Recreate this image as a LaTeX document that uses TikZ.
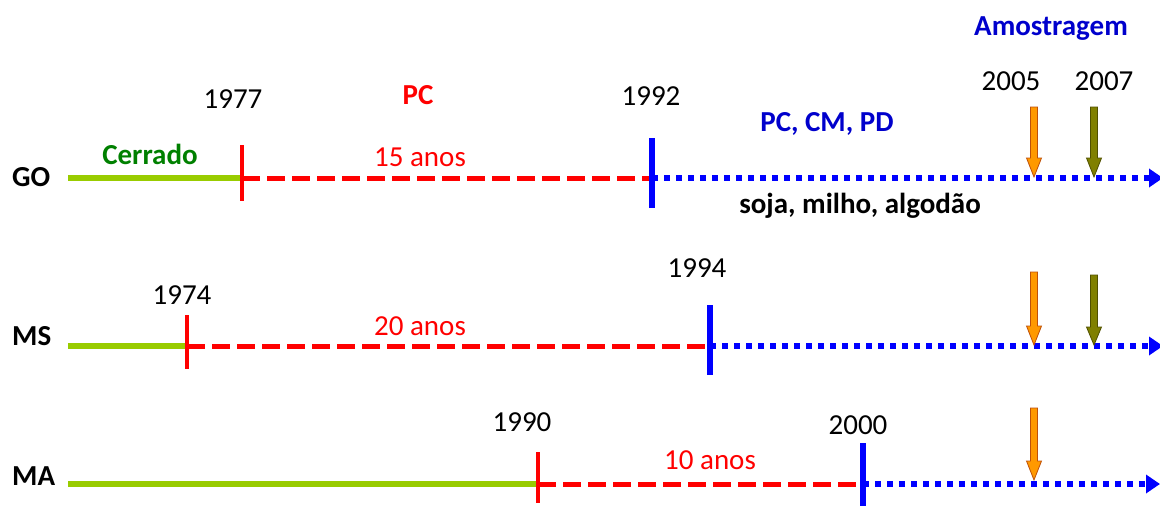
\documentclass[tikz,border=0pt]{standalone}
\usepackage{fontspec}
\setmainfont{Carlito}
\usetikzlibrary{arrows.meta}
\definecolor{cerr}{RGB}{153,204,0}
\definecolor{cerrtxt}{RGB}{0,128,0}
\definecolor{pcred}{RGB}{255,0,0}
\definecolor{pdblue}{RGB}{0,0,255}
\definecolor{txtblue}{RGB}{0,0,204}
\definecolor{orfill}{RGB}{255,153,0}
\definecolor{ordraw}{RGB}{190,80,10}
\definecolor{olfill}{RGB}{128,128,0}
\definecolor{oldraw}{RGB}{80,80,0}
\begin{document}
\begin{tikzpicture}[x=1pt,y=-1pt,
  lbl/.style={font=\fontsize{29}{34}\selectfont, anchor=base, inner sep=0pt},
  blbl/.style={font=\fontsize{29}{34}\selectfont\bfseries, anchor=base, inner sep=0pt},
  greenseg/.style={draw=cerr, line width=6pt},
  redseg/.style={draw=pcred, line width=5pt, dash pattern=on 18pt off 7pt},
  blueseg/.style={draw=pdblue, line width=6pt, dash pattern=on 6pt off 6pt, -{Triangle[length=14pt,width=18pt]}},
  redtick/.style={draw=pcred, line width=4pt},
  bluetick/.style={draw=pdblue, line width=6pt},
  orarrow/.style={fill=orfill, draw=ordraw, line width=0.8pt},
  olarrow/.style={fill=olfill, draw=oldraw, line width=0.8pt}
]
\useasboundingbox (0,0) rectangle (1160,506);

% ---------- GO ----------
\coordinate (g0) at (68,178);
\coordinate (g1) at (242,178);
\coordinate (g2) at (652,178);
\coordinate (g3) at (1163,178);
\draw[greenseg] (g0) -- (g1);
\draw[redseg] (g1) -- (g2);
\draw[blueseg] (g2) -- (g3);
\draw[redtick] (242,145) -- (242,201);
\draw[bluetick] (652,138) -- (652,208);

\node[blbl, anchor=base west] (go) at (12,186) {GO};
\node[blbl, text=cerrtxt] (cerrado) at (150,164) {Cerrado};
\node[lbl] (y1977) at (233,108) {1977};
\node[blbl, text=pcred] (pc) at (418,104) {PC};
\node[lbl, text=pcred] (a15) at (420,166) {15 anos};
\node[lbl] (y1992) at (651,105) {1992};
\node[blbl, text=txtblue] (pccm) at (827,131) {PC, CM, PD};
\node[blbl] (soja) at (860,213) {soja, milho, algodão};
\node[blbl, text=txtblue] (amo) at (1051,35) {Amostragem};
\node[lbl] (y2005) at (1011,90) {2005};
\node[lbl] (y2007) at (1104,90) {2007};

% ---------- MS ----------
\coordinate (m0) at (68,346);
\coordinate (m1) at (187,346);
\coordinate (m2) at (710,346);
\coordinate (m3) at (1163,346);
\draw[greenseg] (m0) -- (m1);
\draw[redseg] (m1) -- (m2);
\draw[blueseg] (m2) -- (m3);
\draw[redtick] (187,315) -- (187,369);
\draw[bluetick] (710,305) -- (710,375);

\node[blbl, anchor=base west] (ms) at (12,345) {MS};
\node[lbl] (y1974) at (182,304) {1974};
\node[lbl, text=pcred] (a20) at (420,335) {20 anos};
\node[lbl] (y1994) at (697,277) {1994};

% ---------- MA ----------
\coordinate (a0) at (68,484);
\coordinate (a1) at (538,484);
\coordinate (a2) at (863,484);
\coordinate (a3) at (1160,484);
\draw[greenseg] (a0) -- (a1);
\draw[redseg] (a1) -- (a2);
\draw[blueseg] (a2) -- (a3);
\draw[redtick] (538,452) -- (538,503);
\draw[bluetick] (863,443) -- (863,509);

\node[blbl, anchor=base west] (ma) at (12,485) {MA};
\node[lbl] (y1990) at (522,431) {1990};
\node[lbl, text=pcred] (a10) at (710,469) {10 anos};
\node[lbl] (y2000) at (858,434) {2000};

% ---------- sampling arrows ----------
\path[orarrow] (1030.5,107) -- (1037.5,107) -- (1037.5,158) -- (1041.5,158) -- (1034,177) -- (1026.5,158) -- (1030.5,158) -- cycle;
\path[olarrow] (1090.5,107) -- (1097.5,107) -- (1097.5,158) -- (1101.5,158) -- (1094,177) -- (1086.5,158) -- (1090.5,158) -- cycle;
\path[orarrow] (1030.5,272) -- (1037.5,272) -- (1037.5,326) -- (1041.5,326) -- (1034,345) -- (1026.5,326) -- (1030.5,326) -- cycle;
\path[olarrow] (1090.5,275) -- (1097.5,275) -- (1097.5,327) -- (1101.5,327) -- (1094,345) -- (1086.5,327) -- (1090.5,327) -- cycle;
\path[orarrow] (1030.5,408) -- (1037.5,408) -- (1037.5,461) -- (1041.5,461) -- (1034,480) -- (1026.5,461) -- (1030.5,461) -- cycle;
\end{tikzpicture}
\end{document}
